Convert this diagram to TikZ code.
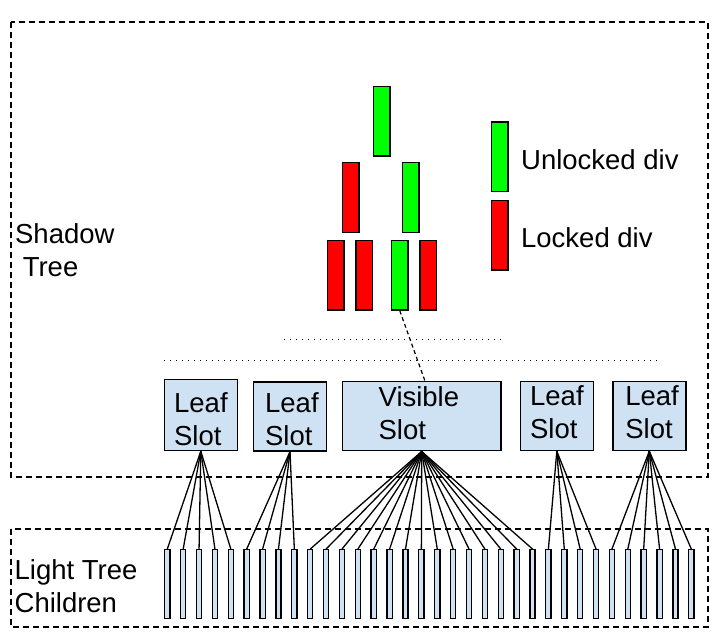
\documentclass[tikz,border=0pt]{standalone}
\usepackage{fontspec}
\setmainfont{Liberation Sans}
\definecolor{divgreen}{HTML}{00FF00}
\definecolor{divred}{HTML}{FF0000}
\definecolor{slotblue}{HTML}{CFE2F3}

\begin{document}
\begin{tikzpicture}[x=1pt,y=-1pt,line width=1.3pt,
		txt/.style={font=\fontsize{27.5}{33}\selectfont,inner sep=0pt,align=left},
		divbox/.style={draw,line width=1.4pt,minimum width=16.5pt,minimum height=69.5pt,inner sep=0pt},
		unlocked/.style={divbox,fill=divgreen},
		locked/.style={divbox,fill=divred},
		slotbox/.style={draw,fill=slotblue,line width=1.4pt,minimum width=73pt,minimum height=69pt,inner sep=0pt},
		childbox/.style={draw,fill=slotblue,line width=1.3pt,minimum width=5.2pt,minimum height=69pt,inner sep=0pt},
		treebox/.style={line width=1.3pt,dash pattern=on 6pt off 4pt}]
		\useasboundingbox (0,0) rectangle (713,636);
		\draw[treebox] (11,22) rectangle (708,477);
		\draw[treebox] (11,529) rectangle (708,627);
		\node[txt,anchor=north west] (shadowlbl) at (14.5,222.6) {Shadow\\\ Tree};
		\node[txt,anchor=north west] (lightlbl) at (14,558.5) {Light Tree\\Children};
		% divs of the shadow tree
		\node[unlocked] (root) at (381.8,121.3) {};
		\node[locked]   (dl)   at (350.8,197.5) {};
		\node[unlocked] (dr)   at (410.7,197.5) {};
		\node[locked]   (dll)  at (335.7,275.3) {};
		\node[locked]   (dlr)  at (364.2,275.3) {};
		\node[unlocked] (drl)  at (399.8,275.3) {};
		\node[locked]   (drr)  at (428.3,275.3) {};
		% legend
		\node[unlocked] (keyopen) at (499.7,156.8) {};
		\node[locked]   (keyshut) at (499.7,235.3) {};
		\node[txt,anchor=base west] (openlbl) at (520.5,170) {Unlocked div};
		\node[txt,anchor=base west] (shutlbl) at (520.5,247.3) {Locked div};
		\draw[line width=1pt,dash pattern=on 1pt off 5pt] (284.3,340) -- (502,340);
		\draw[line width=1pt,dash pattern=on 1pt off 5pt] (164.3,361) -- (658,361);
		% slots
		\node[slotbox,minimum height=71pt] (leaf1) at (200.8,415) {};
		\node[slotbox] (leaf2) at (290,416.5) {};
		\node[slotbox,minimum width=158.7pt] (visible) at (421.7,416.3) {};
		\node[slotbox] (leaf4) at (556.8,416) {};
		\node[slotbox] (leaf5) at (649.3,416) {};
		\node[txt,anchor=north west] (leaf1lbl) at (173.5,392) {Leaf\\Slot};
		\node[txt,anchor=north west] (leaf2lbl) at (264.5,392) {Leaf\\Slot};
		\node[txt,anchor=north west] (visiblelbl) at (378,386.4) {Visible\\Slot};
		\node[txt,anchor=north west] (leaf4lbl) at (529.5,385.3) {Leaf\\Slot};
		\node[txt,anchor=north west] (leaf5lbl) at (624.7,385.3) {Leaf\\Slot};
		\draw[line width=1.2pt,dash pattern=on 4pt off 3pt] (drl.south) -- ([xshift=3.3pt]visible.north);
		% light tree children
		\foreach \i in {0,...,33}
			\node[childbox] (c\i) at ({167.3+15.88*\i},584.2) {};
		\foreach \i in {0,...,4}
			\draw (leaf1.south) -- (c\i.north);
		\foreach \i in {5,...,8}
			\draw (leaf2.south) -- (c\i.north);
		\foreach \i in {9,...,23}
			\draw (visible.south) -- (c\i.north);
		\foreach \i in {24,...,27}
			\draw (leaf4.south) -- (c\i.north);
		\foreach \i in {28,...,33}
			\draw (leaf5.south) -- (c\i.north);
	\end{tikzpicture}
\end{document}
